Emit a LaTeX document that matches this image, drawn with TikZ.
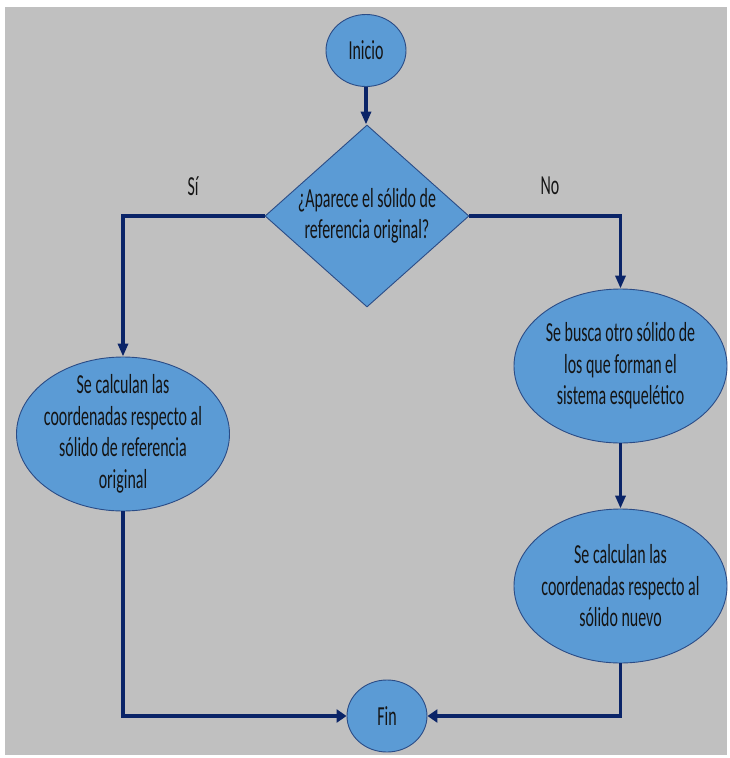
\documentclass[tikz,border=0pt]{standalone}
\usepackage{fontspec}
\setmainfont{Carlito}[FakeStretch=0.58]
\usetikzlibrary{shapes.geometric,arrows.meta}
\definecolor{bg}{HTML}{C0C0C0}
\definecolor{fillb}{HTML}{5B9BD5}
\definecolor{edgeb}{HTML}{2B4C86}
\definecolor{navy}{HTML}{0A2468}
\definecolor{ink}{HTML}{141414}
\begin{document}
\begin{tikzpicture}[x=1pt,y=-1pt,
  txt/.style={font=\fontsize{27.5}{31.5}\selectfont, text=ink, align=center, inner sep=0pt},
  blob/.style={ellipse, draw=edgeb, line width=0.9pt, fill=fillb, inner sep=0pt},
  bigblob/.style={blob, minimum width=213pt, minimum height=154pt},
  smallblob/.style={blob, minimum width=80pt, minimum height=72pt},
  decision/.style={diamond, draw=edgeb, line width=0.9pt, fill=fillb, inner sep=0pt,
    minimum width=204pt, minimum height=182pt},
  conn/.style={draw=navy, line width=3.5pt},
  varr/.style={conn, -{Triangle[length=13pt,width=10pt]}},
  harr/.style={conn, -{Triangle[length=10pt,width=13pt]}}]
\useasboundingbox (0,0) rectangle (729,758);
\fill[white] (0,0) rectangle (729,758);
\fill[bg] (5,7) rectangle (727,755);

\node[smallblob, label={[txt]center:Inicio}] (start) at (366,50.5) {};
\node[decision, label={[txt]center:¿Aparece el sólido de\\referencia original?}] (q) at (367,216) {};
\node[bigblob, label={[txt]center:Se calculan las\\coordenadas respecto al\\sólido de referencia\\original}] (left) at (123,434) {};
\node[bigblob, label={[txt]center:Se busca otro sólido de\\los que forman el\\sistema esquelético}] (r1) at (620.5,366) {};
\node[bigblob, label={[txt]center:Se calculan las\\coordenadas respecto al\\sólido nuevo}] (r2) at (620.5,586) {};
\node[smallblob, label={[txt]center:Fin}] (end) at (387,716) {};

\node[txt] (si) at (193,186) {Sí};
\node[txt] (no) at (550,186) {No};

\draw[varr] (start) -- (start |- q.north);
\draw[varr] (q.west) -| (left.north);
\draw[varr] (q.east) -| (r1.north);
\draw[varr] (r1) -- (r2);
\draw[harr] (left.south) |- (end.west);
\draw[harr] (r2.south) |- (end.east);
\end{tikzpicture}
\end{document}
